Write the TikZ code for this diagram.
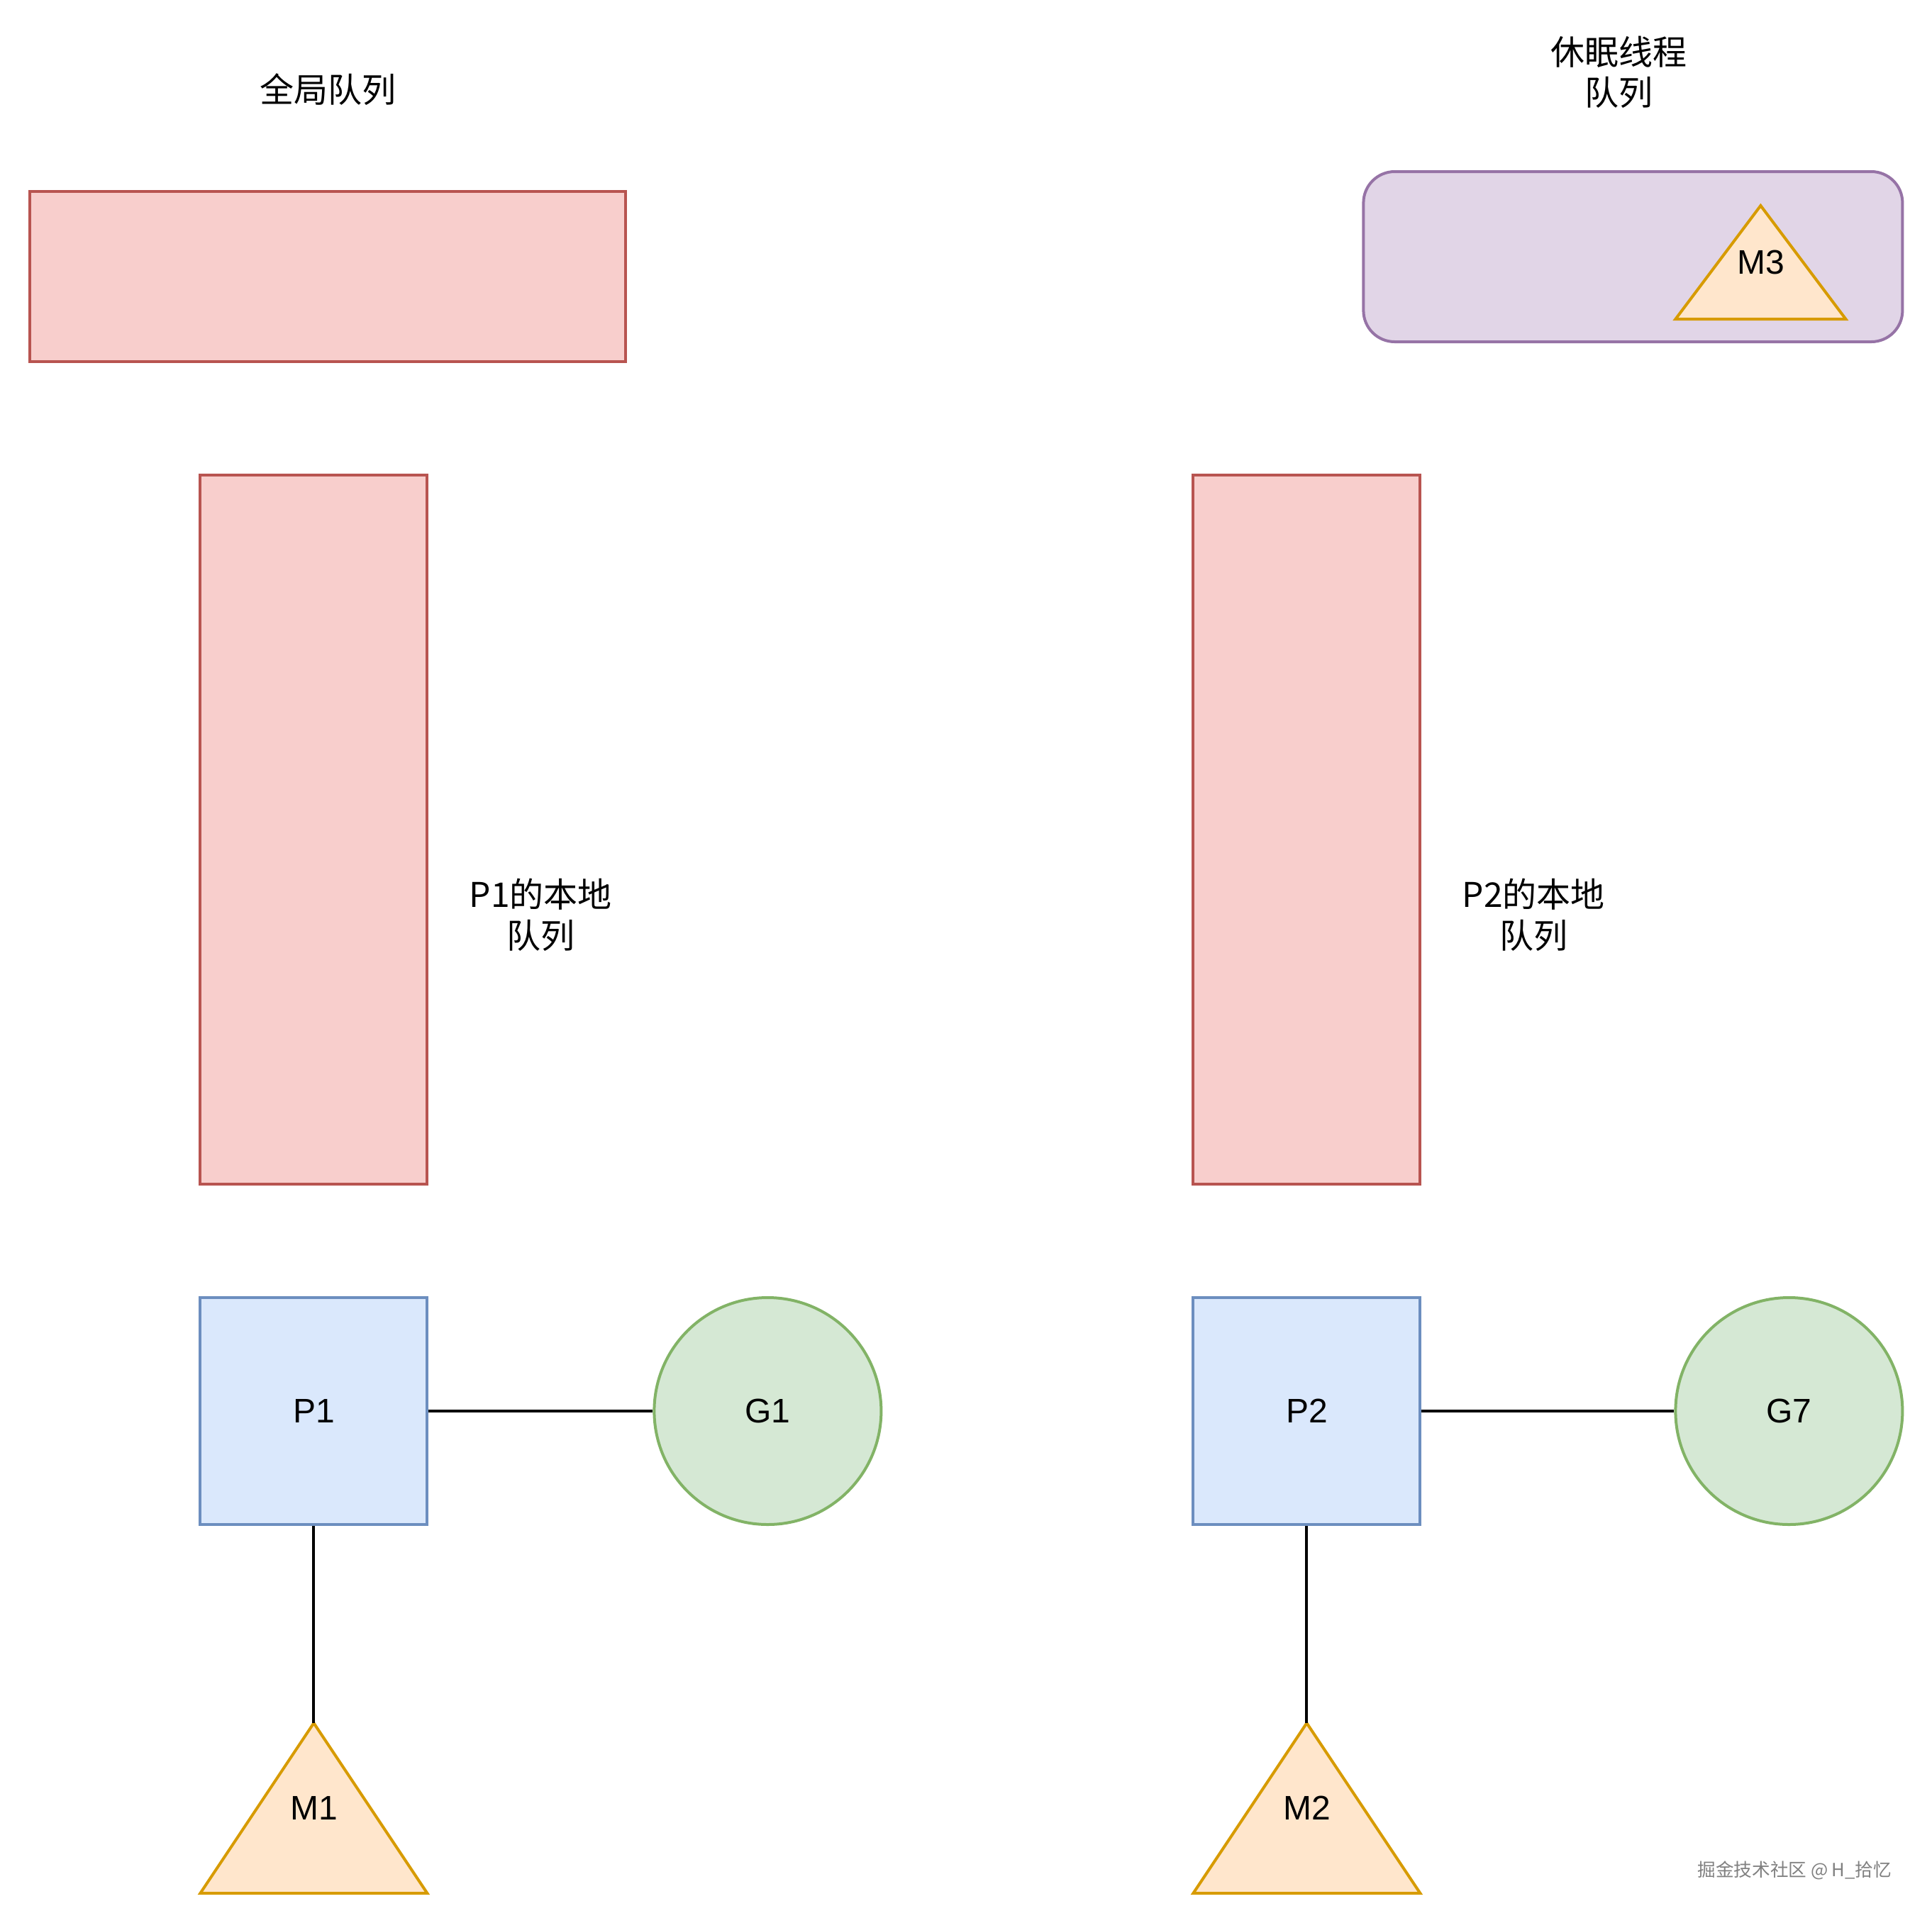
\documentclass[tikz,border=0pt]{standalone}
\usepackage{fontspec}
\setmainfont{Liberation Sans}
\newfontfamily\cjk{Noto Sans CJK SC}
\usetikzlibrary{positioning}

\definecolor{redfill}{HTML}{F8CECC}
\definecolor{redline}{HTML}{B85450}
\definecolor{bluefill}{HTML}{DAE8FC}
\definecolor{blueline}{HTML}{6C8EBF}
\definecolor{greenfill}{HTML}{D5E8D4}
\definecolor{greenline}{HTML}{82B366}
\definecolor{orangefill}{HTML}{FFE6CC}
\definecolor{orangeline}{HTML}{D79B00}
\definecolor{purplefill}{HTML}{E1D5E7}
\definecolor{purpleline}{HTML}{9673A6}

\begin{document}
\begin{tikzpicture}[x=1pt, y=-1pt, line width=1pt,
    font=\fontsize{12}{14.4}\selectfont,
    queue/.style={draw=redline, fill=redfill, inner sep=0pt},
    proc/.style={draw=blueline, fill=bluefill, minimum size=80pt, inner sep=0pt},
    gor/.style={circle, draw=greenline, fill=greenfill, minimum size=80pt, inner sep=0pt},
    thread/.style={draw=orangeline, fill=orangefill, line join=miter},
    sleepq/.style={draw=purpleline, fill=purplefill, rounded corners=11pt, inner sep=0pt},
    caption/.style={align=center, font=\cjk\fontsize{12}{14.4}\selectfont}]
    \useasboundingbox (-0.6,-0.5) rectangle (680.4,677.5);

    % global queue
    \node[caption] (gqlabel) at (115,31) {全局队列};
    \node[queue, minimum width=210pt, minimum height=60pt] (gq) at (115,97) {};

    % sleeping threads
    \node[caption] (sqlabel) at (570,25) {休眠线程\\队列};
    \node[sleepq, minimum width=190pt, minimum height=60pt] (sq) at (575,90) {};
    \coordinate (m3c) at (620,92);
    \draw[thread] (m3c) ++(-30,20) -- ++(60,0) -- ++(-30,-40) -- cycle;
    \node (m3) at (m3c) {M3};

    % P1 side
    \node[queue, minimum width=80pt, minimum height=250pt] (lq1) at (110,292) {};
    \node[caption] (lq1label) at (190,322) {P1的本地\\队列};
    \node[proc] (p1) at (110,497) {P1};
    \node[gor] (g1) at (270,497) {G1};
    \coordinate (m1c) at (110,637);
    \draw[thread] (m1c) ++(-40,30) -- ++(80,0) -- ++(-40,-60) coordinate (m1top) -- cycle;
    \node (m1) at (m1c) {M1};
    \draw (p1.east) -- (g1.west);
    \draw (p1.south) -- (m1top);

    % P2 side
    \node[queue, minimum width=80pt, minimum height=250pt] (lq2) at (460,292) {};
    \node[caption] (lq2label) at (540,322) {P2的本地\\队列};
    \node[proc] (p2) at (460,497) {P2};
    \node[gor] (g7) at (630,497) {G7};
    \coordinate (m2c) at (460,637);
    \draw[thread] (m2c) ++(-40,30) -- ++(80,0) -- ++(-40,-60) coordinate (m2top) -- cycle;
    \node (m2) at (m2c) {M2};
    \draw (p2.east) -- (g7.west);
    \draw (p2.south) -- (m2top);

    % watermark
    \node[text=black!50, font=\cjk\fontsize{6.4}{7.5}\selectfont] (mark) at (632,659) {掘金技术社区 @ H\_拾忆};
\end{tikzpicture}
\end{document}
